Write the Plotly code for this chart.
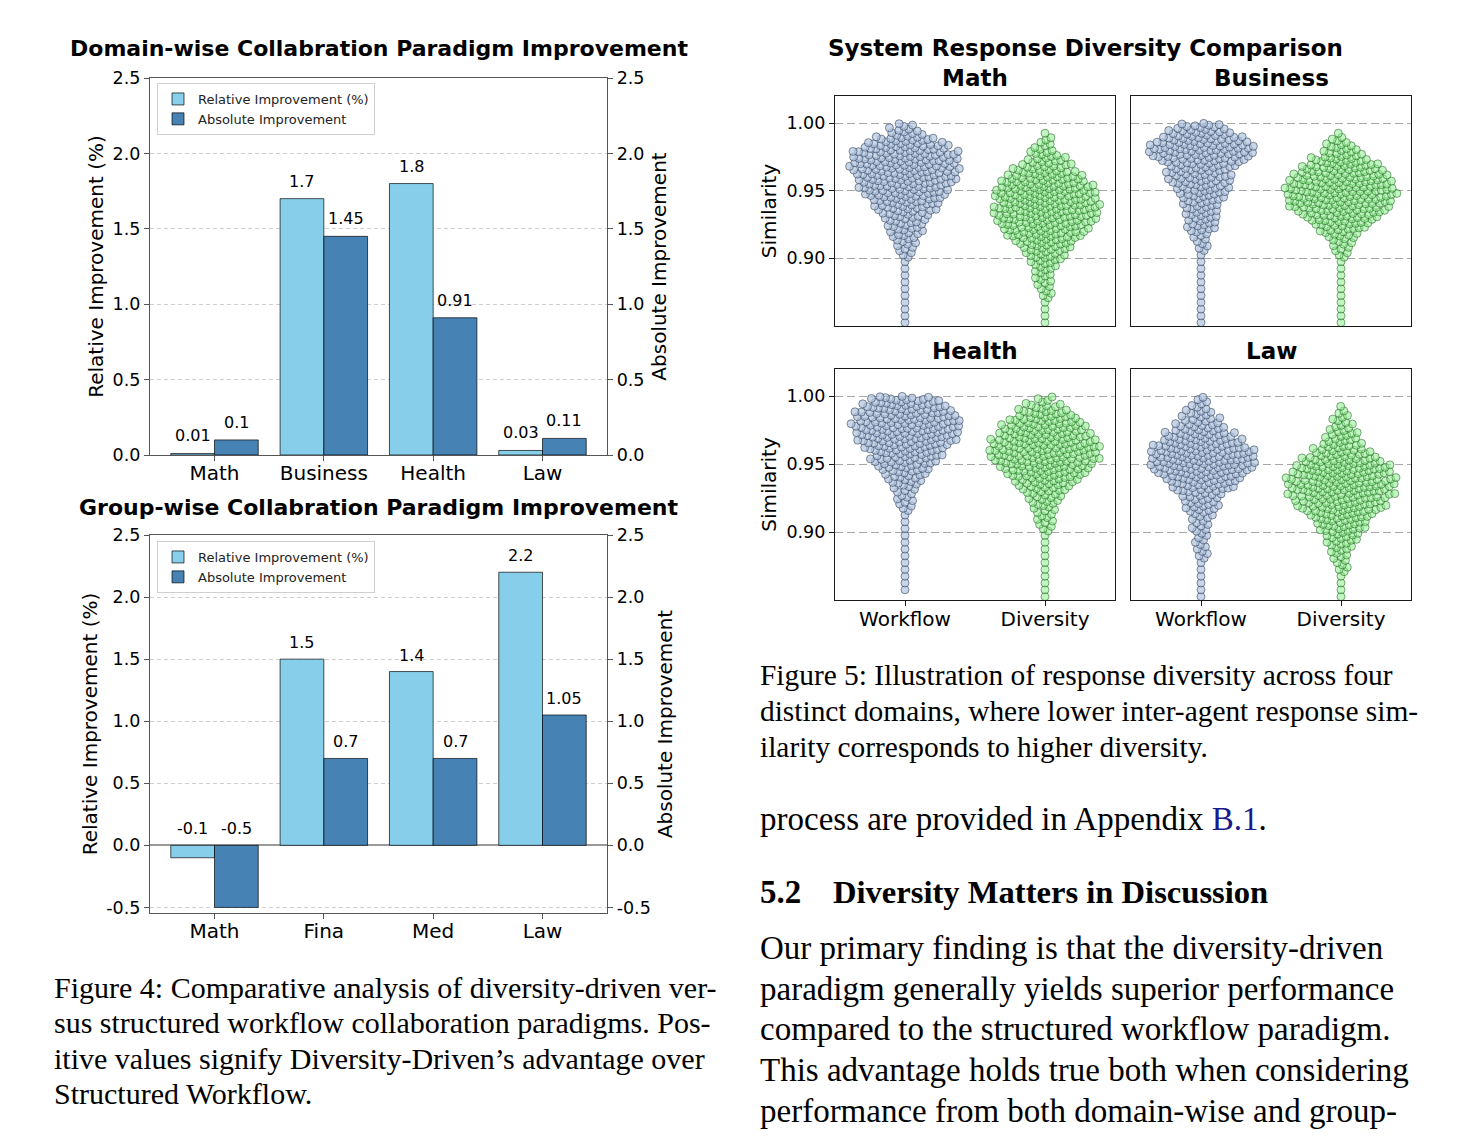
import numpy as np
import plotly.graph_objects as go

W, H = 1470, 1141


def fx(px):
    return px / W


def fy(py):
    return 1 - py / H


# ---------------- Figure 4 data ----------------
domain_categories = ["Math", "Business", "Health", "Law"]
domain_relative = [0.01, 1.7, 1.8, 0.03]
domain_absolute = [0.1, 1.45, 0.91, 0.11]

group_categories = ["Math", "Fina", "Med", "Law"]
group_relative = [-0.1, 1.5, 1.4, 2.2]
group_absolute = [-0.5, 0.7, 0.7, 1.05]

bar_tick_values = [-0.5, 0.0, 0.5, 1.0, 1.5, 2.0, 2.5]
bar_tick_labels = ["-0.5", "0.0", "0.5", "1.0", "1.5", "2.0", "2.5"]

# ---------------- Figure 5 data ----------------
# similarity values read from the swarms as counts per 0.005-wide bin
swarm_categories = ["Workflow", "Diversity"]
sim_tick_values = [0.90, 0.95, 1.00]
sim_tick_labels = ["0.90", "0.95", "1.00"]
sim_bin_width = 0.005
sim_bin_lower = [0.850, 0.855, 0.860, 0.865, 0.870, 0.875, 0.880, 0.885, 0.890, 0.895,
                 0.900, 0.905, 0.910, 0.915, 0.920, 0.925, 0.930, 0.935, 0.940, 0.945,
                 0.950, 0.955, 0.960, 0.965, 0.970, 0.975, 0.980, 0.985, 0.990, 0.995]

math_workflow_counts = [1, 1, 1, 1, 1, 1, 1, 1, 1, 1,
                        3, 4, 5, 7, 8, 9, 11, 14, 16, 19,
                        20, 22, 23, 24, 24, 23, 20, 15, 8, 5]
math_diversity_counts = [1, 1, 1, 1, 3, 3, 4, 4, 5, 7,
                         9, 11, 14, 18, 19, 22, 23, 24, 23, 23,
                         22, 19, 16, 12, 9, 7, 4, 3, 1, 0]
business_workflow_counts = [1, 1, 1, 1, 1, 1, 1, 1, 1, 1,
                            1, 3, 3, 4, 7, 7, 8, 8, 9, 11,
                            12, 14, 14, 15, 19, 23, 24, 20, 15, 11]
business_diversity_counts = [1, 1, 1, 1, 1, 1, 1, 1, 1, 1,
                             3, 4, 5, 8, 11, 15, 18, 22, 24, 24,
                             24, 23, 20, 18, 14, 9, 7, 4, 1, 0]
health_workflow_counts = [0, 1, 1, 1, 1, 1, 1, 1, 1, 1,
                          1, 1, 1, 3, 4, 4, 5, 8, 9, 12,
                          15, 16, 19, 22, 23, 24, 23, 22, 19, 16]
health_diversity_counts = [1, 1, 1, 1, 1, 1, 1, 1, 1, 1,
                           3, 4, 4, 5, 7, 8, 11, 14, 18, 20,
                           23, 24, 24, 23, 20, 19, 16, 12, 8, 4]
law_workflow_counts = [1, 1, 1, 1, 1, 1, 3, 3, 3, 3,
                       4, 4, 5, 8, 8, 9, 14, 16, 20, 24,
                       24, 24, 22, 18, 15, 11, 8, 7, 4, 3]
law_diversity_counts = [1, 1, 1, 1, 3, 3, 4, 5, 7, 8,
                        11, 12, 15, 19, 20, 22, 24, 24, 23, 22,
                        18, 14, 11, 8, 7, 5, 4, 3, 1, 0]

panel_titles = ["Math", "Business", "Health", "Law"]
panel_counts = [
    (math_workflow_counts, math_diversity_counts),
    (business_workflow_counts, business_diversity_counts),
    (health_workflow_counts, health_diversity_counts),
    (law_workflow_counts, law_diversity_counts),
]

# ---------------- text ----------------
fig4_caption = [
    "Figure 4: Comparative analysis of diversity-driven ver-",
    "sus structured workflow collaboration paradigms. Pos-",
    "itive values signify Diversity-Driven’s advantage over",
    "Structured Workflow.",
]
fig5_caption = [
    "Figure 5: Illustration of response diversity across four",
    "distinct domains, where lower inter-agent response sim-",
    "ilarity corresponds to higher diversity.",
]
body_lines = [
    "Our primary finding is that the diversity-driven",
    "paradigm generally yields superior performance",
    "compared to the structured workflow paradigm.",
    "This advantage holds true both when considering",
    "performance from both domain-wise and group-",
]

# ---------------- styles ----------------
SANS = "DejaVu Sans"
SERIF = "Liberation Serif"
LIGHT = "#87CEEB"
DARK = "#4682B4"
BAR_EDGE = "rgba(0,0,0,0.75)"
SPINE = "#555555"
SW_SPINE = "#1a1a1a"

BAR_X = [fx(150), fx(607)]
TOP_Y = [fy(455), fy(78)]
BOT_Y = [fy(913), fy(535)]

SW_XL = [fx(835), fx(1115)]
SW_XR = [fx(1131), fx(1411)]
SW_YT = [fy(326), fy(96)]
SW_YB = [fy(600), fy(369)]
SW_YRANGE = [0.85, 1.02]
SW_XRANGE = [-0.5, 1.5]

fig = go.Figure()

# ---------------- bar charts ----------------
idx = list(range(len(domain_categories)))


def add_bars(rel, absv, xa, ya_rel, ya_abs, legend):
    fig.add_trace(go.Bar(
        x=idx, y=rel, width=0.4, offset=-0.4, name="Relative Improvement (%)",
        marker=dict(color=LIGHT, line=dict(color=BAR_EDGE, width=0.9)),
        xaxis=xa, yaxis=ya_rel, legend=legend, hoverinfo="skip"))
    fig.add_trace(go.Bar(
        x=idx, y=absv, width=0.4, offset=0.0, name="Absolute Improvement",
        marker=dict(color=DARK, line=dict(color=BAR_EDGE, width=0.9)),
        xaxis=xa, yaxis=ya_abs, legend=legend, hoverinfo="skip"))


add_bars(domain_relative, domain_absolute, "x", "y", "y2", "legend")
add_bars(group_relative, group_absolute, "x2", "y3", "y4", "legend2")

annotations = []


def bar_labels(rel, absv, xref, yref_rel, yref_abs):
    for i, v in enumerate(rel):
        annotations.append(dict(x=i - 0.2, y=max(v, 0) + 0.04, xref=xref, yref=yref_rel,
                                text=str(v), showarrow=False, yanchor="bottom",
                                font=dict(family=SANS, size=16, color="black")))
    for i, v in enumerate(absv):
        annotations.append(dict(x=i + 0.2, y=max(v, 0) + 0.04, xref=xref, yref=yref_abs,
                                text=str(v), showarrow=False, yanchor="bottom",
                                font=dict(family=SANS, size=16, color="black")))


bar_labels(domain_relative, domain_absolute, "x", "y", "y2")
bar_labels(group_relative, group_absolute, "x2", "y3", "y4")


def bar_xaxis(domain, anchor, labels):
    return dict(domain=domain, anchor=anchor, range=[-0.59, 3.59], tickvals=idx, ticktext=labels,
                showline=True, mirror=True, linecolor=SPINE, linewidth=1.3,
                ticks="outside", ticklen=5, tickcolor=SPINE, tickwidth=1.2,
                ticklabelstandoff=-5,
                showgrid=False, zeroline=False,
                tickfont=dict(family=SANS, size=20, color="black"))


def bar_yaxis(domain, anchor, rng, title, zero=False):
    return dict(domain=domain, anchor=anchor, range=rng,
                tickvals=bar_tick_values, ticktext=bar_tick_labels,
                showline=True, linecolor=SPINE, linewidth=1.3,
                ticks="outside", ticklen=5, tickcolor=SPINE, tickwidth=1.2,
                showgrid=True, gridcolor="#cfcfcf", gridwidth=0.9, griddash="4px,3px",
                zeroline=zero, zerolinecolor="#9a9a9a", zerolinewidth=1.6,
                tickfont=dict(family=SANS, size=17.5, color="black"),
                title=dict(text=title, font=dict(family=SANS, size=20, color="black"), standoff=3))


def bar_yaxis_right(overlay, anchor, rng, title):
    return dict(overlaying=overlay, anchor=anchor, side="right", range=rng,
                tickvals=bar_tick_values, ticktext=bar_tick_labels,
                showline=True, linecolor=SPINE, linewidth=1.3,
                ticks="outside", ticklen=5, tickcolor=SPINE, tickwidth=1.2,
                showgrid=False, zeroline=False,
                tickfont=dict(family=SANS, size=17.5, color="black"),
                title=dict(text=title, font=dict(family=SANS, size=20, color="black"), standoff=8))


layout_axes = dict(
    xaxis=bar_xaxis(BAR_X, "y", domain_categories),
    yaxis=bar_yaxis(TOP_Y, "x", [0, 2.5], "Relative Improvement (%)"),
    yaxis2=bar_yaxis_right("y", "x", [0, 2.5], "Absolute Improvement"),
    xaxis2=bar_xaxis(BAR_X, "y3", group_categories),
    yaxis3=bar_yaxis(BOT_Y, "x2", [-0.545, 2.5], "Relative Improvement (%)", zero=True),
    yaxis4=bar_yaxis_right("y3", "x2", [-0.545, 2.5], "Absolute Improvement"),
)

# ---------------- swarm plots ----------------


def expand(counts):
    vals = []
    for lo, n in zip(sim_bin_lower, counts):
        for k in range(n):
            vals.append(lo + sim_bin_width * (k + 0.5) / n)
    return np.array(vals)


def beeswarm(y_px, d):
    n = len(y_px)
    order = np.argsort(y_px, kind="stable")
    xs = np.zeros(n)
    px_arr = np.zeros(n)
    py_arr = np.zeros(n)
    m = 0
    for i in order:
        y = y_px[i]
        if m:
            dy = y - py_arr[:m]
            near = np.abs(dy) < d
            nx, ndy = px_arr[:m][near], dy[near]
        else:
            nx = ndy = np.array([])
        x = 0.0
        if len(nx):
            off = np.sqrt(np.maximum(d * d - ndy * ndy, 0.0))
            cands = np.concatenate([[0.0], nx + off, nx - off])
            cands = cands[np.argsort(np.abs(cands), kind="stable")]
            for c in cands:
                if np.all((nx - c) ** 2 + ndy ** 2 >= d * d - 1e-6):
                    x = c
                    break
        xs[i] = x
        px_arr[m] = x
        py_arr[m] = y
        m += 1
    return xs


panel_px_w = 280.0
panel_px_h = 230.0
ppu_x = panel_px_w / (SW_XRANGE[1] - SW_XRANGE[0])
ppu_y = panel_px_h / (SW_YRANGE[1] - SW_YRANGE[0])
COLLIDE = 5.5

styles = [
    dict(color="rgba(176,196,222,0.7)", line=dict(color="rgba(35,50,80,0.68)", width=0.8)),
    dict(color="rgba(144,238,144,0.56)", line=dict(color="rgba(10,80,10,0.62)", width=0.8)),
]

panel_axes = [("x3", "y5"), ("x4", "y6"), ("x5", "y7"), ("x6", "y8")]
panel_domains = [(SW_XL, SW_YT), (SW_XR, SW_YT), (SW_XL, SW_YB), (SW_XR, SW_YB)]

for p, (counts_pair, (xa, ya)) in enumerate(zip(panel_counts, panel_axes)):
    for ci, counts in enumerate(counts_pair):
        vals = expand(counts)
        offs = beeswarm(vals * ppu_y, COLLIDE) / ppu_x
        fig.add_trace(go.Scatter(
            x=ci + offs, y=vals, mode="markers", xaxis=xa, yaxis=ya,
            marker=dict(size=8, **styles[ci]), showlegend=False, hoverinfo="skip"))

for p, ((xa, ya), (xd, yd)) in enumerate(zip(panel_axes, panel_domains)):
    left = p % 2 == 0
    bottom = p >= 2
    xkey = "xaxis" + xa[1:]
    ykey = "yaxis" + ya[1:]
    layout_axes[xkey] = dict(
        domain=xd, anchor=ya, range=SW_XRANGE, tickvals=[0, 1], ticktext=swarm_categories,
        showticklabels=bottom, ticks="outside" if bottom else "", ticklen=5,
        tickcolor=SW_SPINE, tickwidth=1.2, ticklabelstandoff=-4,
        showline=True, mirror=True, linecolor=SW_SPINE, linewidth=1.3,
        showgrid=False, zeroline=False,
        tickfont=dict(family=SANS, size=20, color="black"))
    layout_axes[ykey] = dict(
        domain=yd, anchor=xa, range=SW_YRANGE, tickvals=sim_tick_values, ticktext=sim_tick_labels,
        showticklabels=left, ticks="outside" if left else "", ticklen=5,
        tickcolor=SW_SPINE, tickwidth=1.2,
        showline=True, mirror=True, linecolor=SW_SPINE, linewidth=1.3,
        showgrid=True, gridcolor="#a8a8a8", gridwidth=1.0, griddash="8px,4px", zeroline=False,
        tickfont=dict(family=SANS, size=17.5, color="black"),
        title=dict(text="Similarity" if left else "", font=dict(family=SANS, size=20, color="black"),
                   standoff=4))

# ---------------- titles & text ----------------


def text(t, x_px, y_px, size, family=SANS, xanchor="center", yanchor="middle", color="black"):
    annotations.append(dict(x=fx(x_px), y=fy(y_px), xref="paper", yref="paper", text=t,
                            showarrow=False, xanchor=xanchor, yanchor=yanchor,
                            font=dict(family=family, size=size, color=color)))


text("<b>Domain-wise Collabration Paradigm Improvement</b>", 379, 49, 22)
text("<b>Group-wise Collabration Paradigm Improvement</b>", 379, 507, 22)
text("<b>System Response Diversity Comparison</b>", 1085, 48, 23)
panel_title_pos = [(975, 78), (1271, 78), (975, 351), (1271, 351)]
for t, (px, py) in zip(panel_titles, panel_title_pos):
    text("<b>%s</b>" % t, px, py, 23)

for i, line in enumerate(fig4_caption):
    text(line, 52, 987 + i * 35.5, 30, family=SERIF, xanchor="left")
for i, line in enumerate(fig5_caption):
    text(line, 758, 675 + i * 36, 29.4, family=SERIF, xanchor="left")
text("process are provided in Appendix <span style='color:#1a1a8c'>B.1</span>.", 758, 819, 33,
     family=SERIF, xanchor="left")
text("<b>5.2</b>", 758, 892, 33, family=SERIF, xanchor="left")
text("<b>Diversity Matters in Discussion</b>", 831, 892, 32.6, family=SERIF, xanchor="left")
for i, line in enumerate(body_lines):
    text(line, 758, 948 + i * 40.7, 33, family=SERIF, xanchor="left")

legend_style = dict(xanchor="left", yanchor="top", bgcolor="rgba(255,255,255,0.85)",
                    bordercolor="#d0d0d0", borderwidth=1,
                    font=dict(family=SANS, size=13, color="#222222"), tracegroupgap=0)

fig.update_layout(
    width=W, height=H, margin=dict(l=0, r=0, t=0, b=0),
    paper_bgcolor="white", plot_bgcolor="white",
    template="none", barmode="overlay", showlegend=True,
    legend=dict(x=fx(157), y=fy(83), **legend_style),
    legend2=dict(x=fx(157), y=fy(541), **legend_style),
    annotations=annotations,
    font=dict(family=SANS, color="black"),
    **layout_axes,
)

fig.write_html("out.html", config={"displayModeBar": False},
               post_script="document.body.style.margin='0';document.body.style.overflow='hidden';")
